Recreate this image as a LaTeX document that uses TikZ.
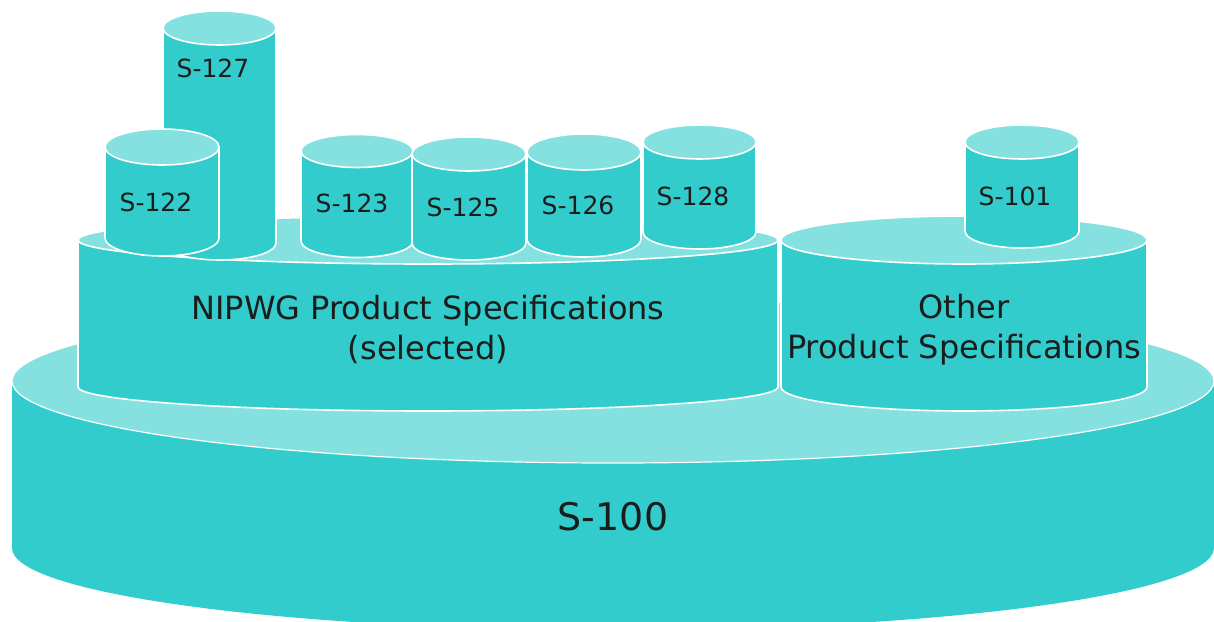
\documentclass[tikz,border=0pt]{standalone}
\usepackage{fontspec}
\setmainfont{DejaVu Sans}
\definecolor{tealdark}{HTML}{33CCCC}
\definecolor{teallight}{HTML}{85E1E0}
\definecolor{txt}{HTML}{1C1C1C}
\newcommand\drawcyl[5]{% cx, rx, ytop, ybot, ry
  \fill[tealdark, draw=white, line width=1.6pt]
    (#1-#2,#3) -- (#1-#2,#4) arc[start angle=180, end angle=0, x radius=#2, y radius=#5]
    -- (#1+#2,#3) -- cycle;
  \fill[teallight, draw=white, line width=1.6pt] (#1,#3) ellipse[x radius=#2, y radius=#5];
}
\tikzset{
  lbl/.style={text=txt, font=\fontsize{25}{30}\selectfont, inner sep=0pt},
  mid/.style={text=txt, font=\fontsize{32}{40}\selectfont, align=center, inner sep=0pt},
  big/.style={text=txt, font=\fontsize{38}{44}\selectfont, inner sep=0pt}
}
\begin{document}
\begin{tikzpicture}[x=1pt,y=-1pt]
\useasboundingbox (0,0) rectangle (1214,621);
\clip (0,0) rectangle (1214,621);
% S-100 base
\fill[tealdark] (12,381) -- (12,548) arc[start angle=180, end angle=0, x radius=601, y radius=82] -- (1214,381) -- cycle;
\fill[teallight, draw=white, line width=1.2pt] (613,381) ellipse[x radius=601, y radius=82];
\node[big] (s100) at (613,517) {S-100};
% NIPWG and Other
\drawcyl{428}{350}{240}{387}{24}
\drawcyl{964}{183}{240}{387}{24}
\node[mid] (nipwg) at (428,329) {NIPWG Product Specifications\\(selected)};
\node[mid] (other) at (964,330) {Other\\Product Specifications};
% small cylinders
\drawcyl{219.5}{56.5}{28}{243}{17}
\node[lbl] (s127) at (213,68) {S-127};
\drawcyl{162}{57}{147}{238}{18}
\node[lbl] (s122) at (156,202) {S-122};
\drawcyl{357}{56}{151}{241}{16.5}
\node[lbl] (s123) at (352,203) {S-123};
\drawcyl{469}{57}{154}{243}{17}
\node[lbl] (s125) at (463,207) {S-125};
\drawcyl{584}{57}{152}{239}{18}
\node[lbl] (s126) at (578,205) {S-126};
\drawcyl{699.5}{56.5}{142}{232}{17}
\node[lbl] (s128) at (693,196) {S-128};
\drawcyl{1022}{57}{142}{231}{17}
\node[lbl] (s101) at (1015,196) {S-101};
\end{tikzpicture}
\end{document}
